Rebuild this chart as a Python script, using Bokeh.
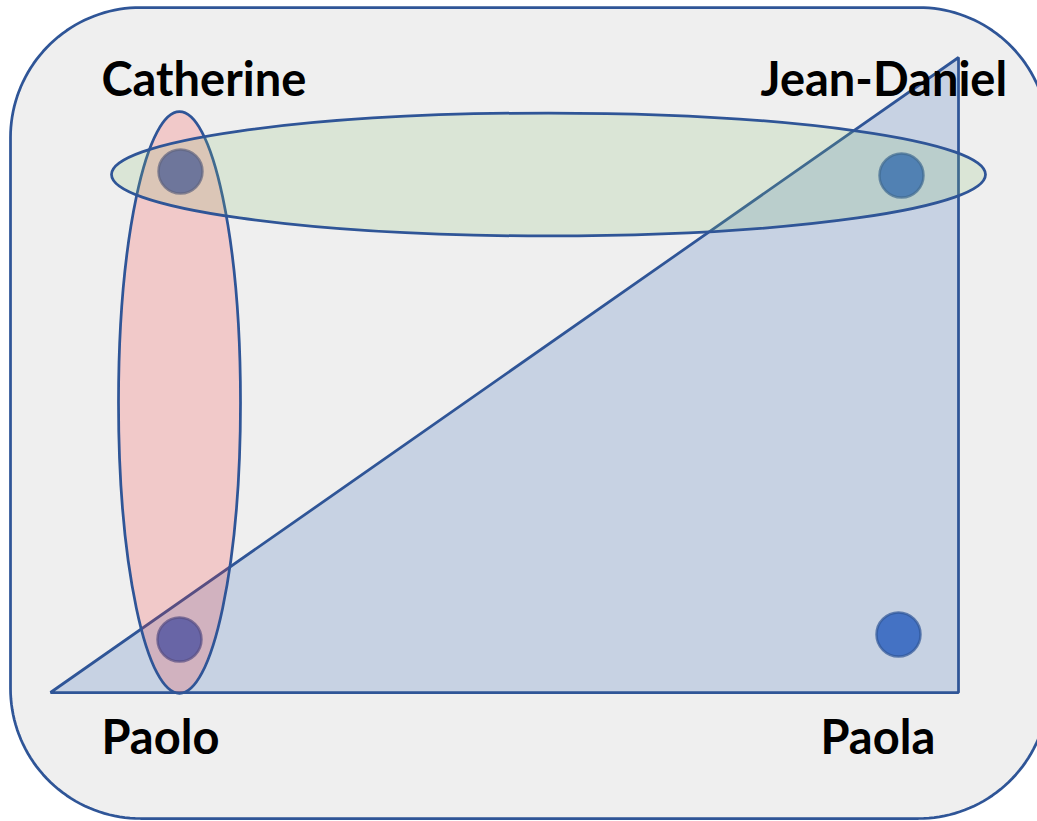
import numpy as np
from bokeh.plotting import figure
from bokeh.models import Range1d, ColumnDataSource
from bokeh.core.properties import value
from bokeh.embed import file_html
from bokeh.resources import INLINE

# --- data (diagram coordinates, y grows downward) ---
names = ["Catherine", "Jean-Daniel", "Paolo", "Paola"]
node_x = [180, 901, 179, 898]
node_y = [171, 175, 639, 634]
label_x = [101, 760, 101, 820]
label_y = [77, 77, 735, 735]

# hyperedge {Catherine, Paolo}: vertical ellipse
edge_cp = dict(x=179, y=402, w=122, h=582)
# hyperedge {Catherine, Jean-Daniel}: horizontal ellipse
edge_cj = dict(x=548, y=174, w=874, h=123)
# hyperedge {Paolo, Jean-Daniel, Paola}: triangle
tri_x = [50, 958, 958]
tri_y = [692, 57, 692]
# universe frame (rounded rectangle)
frame = dict(x0=10, x1=1048, y0=7, y1=818, r=130)

EDGE = "#2f5597"
W, H = 1037, 821

p = figure(width=W, height=H, output_backend="svg", toolbar_location=None,
           x_range=Range1d(0, W), y_range=Range1d(H, 0), min_border=0)
p.axis.visible = False
p.grid.visible = False
p.outline_line_color = None
p.background_fill_color = "white"
p.border_fill_color = "white"

# rounded rectangle
def rounded(x0, x1, y0, y1, r, n=40):
    xs, ys = [], []
    corners = [(x1 - r, y0 + r, -np.pi / 2, 0), (x1 - r, y1 - r, 0, np.pi / 2),
               (x0 + r, y1 - r, np.pi / 2, np.pi), (x0 + r, y0 + r, np.pi, 1.5 * np.pi)]
    for cx, cy, a0, a1 in corners:
        t = np.linspace(a0, a1, n)
        xs.extend(cx + r * np.cos(t))
        ys.extend(cy + r * np.sin(t))
    return xs, ys

fx, fy = rounded(frame["x0"], frame["x1"], frame["y0"], frame["y1"], frame["r"])
p.patch(fx, fy, fill_color="#efefef", line_color=EDGE, line_width=2.75)

# triangle hyperedge
p.patch(tri_x, tri_y, fill_color="#c7d2e3", line_color=EDGE, line_width=2.75)

# nodes
p.scatter(node_x, node_y, size=44, fill_color="#4472c4", line_color="#2f5597",
          line_width=2.5, line_alpha=0.7)

# ellipse hyperedges (translucent, over the nodes)
p.ellipse(x=edge_cp["x"], y=edge_cp["y"], width=edge_cp["w"], height=edge_cp["h"],
          fill_color="#f93131", fill_alpha=0.2, line_color=EDGE, line_width=2.75)
p.ellipse(x=edge_cj["x"], y=edge_cj["y"], width=edge_cj["w"], height=edge_cj["h"],
          fill_color="#86bd72", fill_alpha=0.2, line_color=EDGE, line_width=2.75)

# labels
src = ColumnDataSource(dict(x=label_x, y=label_y, t=names))
p.text(x="x", y="y", text="t", source=src, text_font=value("Lato"),
       text_font_style="bold", text_font_size="47px", text_color="black",
       text_align="left", text_baseline="alphabetic")

open("out.html", "w").write(file_html(p, INLINE))
